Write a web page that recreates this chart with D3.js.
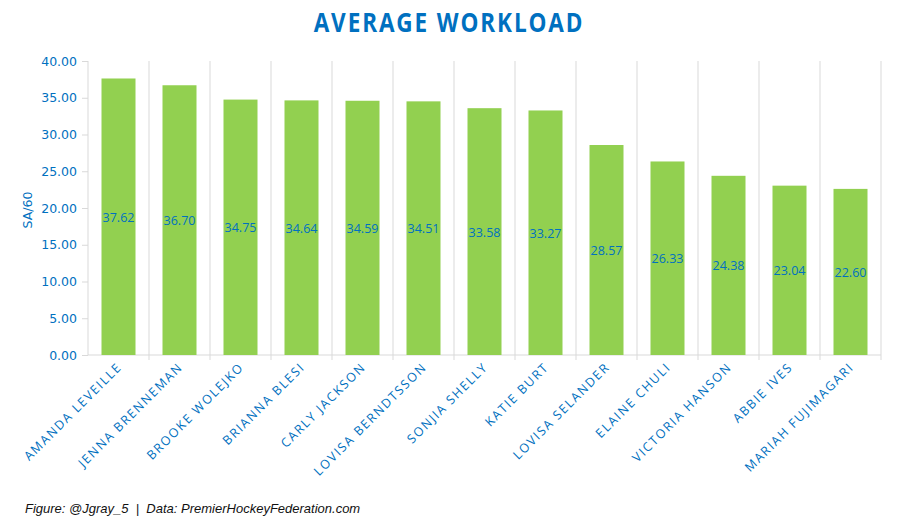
<!DOCTYPE html>
<html><head><meta charset="utf-8">
<script src="https://cdn.jsdelivr.net/npm/d3@7"></script>
<style>body{margin:0;background:#fff;}svg{display:block;}</style>
</head><body>
<script>
const players = ["AMANDA LEVEILLE","JENNA BRENNEMAN","BROOKE WOLEJKO","BRIANNA BLESI","CARLY JACKSON","LOVISA BERNDTSSON","SONJIA SHELLY","KATIE BURT","LOVISA SELANDER","ELAINE CHULI","VICTORIA HANSON","ABBIE IVES","MARIAH FUJIMAGARI"];
const sa60 = [37.62,36.70,34.75,34.64,34.59,34.51,33.58,33.27,28.57,26.33,24.38,23.04,22.60];
const yTicks = [0,5,10,15,20,25,30,35,40];
const title = "AVERAGE WORKLOAD";
const yLabel = "SA/60";
const footer = "Figure: @Jgray_5  |  Data: PremierHockeyFederation.com";

const W=898,H=531, blue="#0070C0", green="#92D050", grid="#d9d9d9";
const m={l:88,r:881,t:61,b:355};
const svg=d3.select("body").append("svg").attr("width",W).attr("height",H);
const x=d3.scaleBand().domain(players).range([m.l,m.r]).paddingInner(0).paddingOuter(0);
const y=d3.scaleLinear().domain([0,40]).range([m.b,m.t]);

svg.append("text").attr("transform","translate(449,32) scale(0.94,1.08)").attr("text-anchor","middle")
  .attr("font-family","Open Sans").attr("font-weight","bold").attr("font-size",24)
  .attr("letter-spacing",2).attr("fill",blue).text(title);

// vertical gridlines at band boundaries
const bounds=players.map(p=>x(p)).concat([m.r]);
svg.append("g").selectAll("line").data(bounds.slice(1)).join("line")
  .attr("x1",d=>d).attr("x2",d=>d).attr("y1",m.t).attr("y2",m.b+5)
  .attr("stroke",grid).attr("stroke-width",1);

// y axis
const ya=svg.append("g").attr("transform",`translate(${m.l},0)`)
  .call(d3.axisLeft(y).tickValues(yTicks).tickFormat(d3.format(".2f")).tickSize(6).tickPadding(5));
ya.select(".domain").attr("stroke",grid).attr("d",`M-0,${m.t}V${m.b}`);
ya.selectAll(".tick line").attr("stroke",grid);
ya.selectAll(".tick text").attr("fill",blue).attr("font-family","DejaVu Sans").attr("font-size",12.5);

// x axis line
svg.append("line").attr("x1",m.l).attr("x2",m.r).attr("y1",m.b).attr("y2",m.b).attr("stroke",grid);

// bars
const bw=34;
svg.append("g").selectAll("rect").data(players).join("rect")
  .attr("x",(d)=>x(d)+x.bandwidth()/2-bw/2).attr("width",bw)
  .attr("y",(d,i)=>y(sa60[i])).attr("height",(d,i)=>y(0)-y(sa60[i])).attr("fill",green);

// value labels
svg.append("g").selectAll("text").data(players).join("text")
  .attr("x",d=>x(d)+x.bandwidth()/2).attr("y",(d,i)=>y(sa60[i]/2)+5)
  .attr("text-anchor","middle").attr("font-family","Open Sans").attr("font-size",12.5)
  .attr("fill",blue).text((d,i)=>sa60[i].toFixed(2));

// x labels
svg.append("g").selectAll("text").data(players).join("text")
  .attr("transform",d=>`translate(${x(d)+x.bandwidth()/2+4},${m.b+13}) rotate(-45)`)
  .attr("text-anchor","end").attr("font-family","Open Sans").attr("font-size",12.5)
  .attr("letter-spacing",1.6).attr("fill",blue).text(d=>d);

// y label
svg.append("text").attr("transform","translate(32,210) rotate(-90)").attr("text-anchor","middle")
  .attr("font-family","DejaVu Sans").attr("font-size",12.5).attr("fill",blue).text(yLabel);

// footer
svg.append("text").attr("x",25).attr("y",513).attr("font-family","Liberation Sans")
  .attr("font-style","italic").attr("font-size",13).attr("fill","#111").attr("xml:space","preserve")
  .style("white-space","pre").text(footer);
</script>
</body></html>
